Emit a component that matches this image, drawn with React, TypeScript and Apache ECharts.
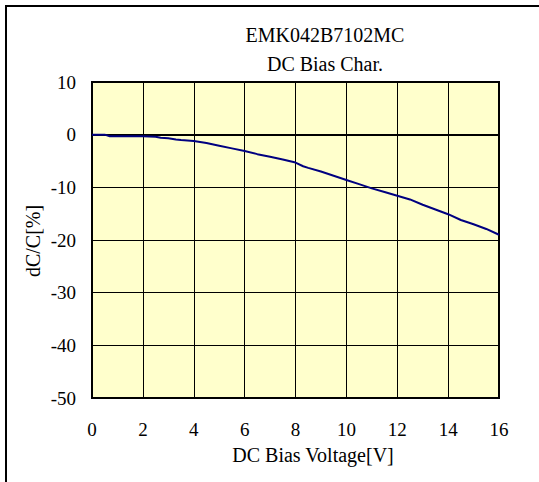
import React, { useEffect, useRef } from "react";
import * as echarts from "echarts";

const titleLines = ["EMK042B7102MC", "DC Bias Char."];
const xAxisName = "DC Bias Voltage[V]";
const yAxisName = "dC/C[%]";

const voltage = [0, 0.5, 0.7, 1, 1.5, 2, 2.5, 2.7, 3, 3.3, 3.5, 4, 4.5, 5, 5.5, 6, 6.5, 7, 7.5, 8, 8.3, 8.5, 9, 9.5, 10, 10.5, 11, 11.5, 12, 12.5, 13, 13.5, 14, 14.5, 15, 15.5, 16];
const dcdc = [0, 0, -0.3, -0.3, -0.3, -0.3, -0.4, -0.6, -0.7, -0.9, -1.0, -1.2, -1.6, -2.1, -2.6, -3.1, -3.7, -4.2, -4.7, -5.3, -6.0, -6.3, -7.0, -7.8, -8.6, -9.4, -10.2, -10.9, -11.6, -12.3, -13.3, -14.2, -15.1, -16.2, -17.0, -17.9, -19.0];

const FONT = "'Liberation Serif', 'Times New Roman', serif";

export default function App() {
  const ref = useRef<HTMLDivElement>(null);
  useEffect(() => {
    document.body.style.margin = "0";
    const chart = echarts.init(ref.current!, null, { renderer: "svg" });
    chart.setOption({
      animation: false,
      backgroundColor: "#ffffff",
      grid: {
        left: 92,
        top: 82,
        width: 407,
        height: 316,
        show: true,
        backgroundColor: "#FFFFCC",
        borderColor: "#000000",
        borderWidth: 2,
      },
      xAxis: {
        type: "value",
        min: 0,
        max: 16,
        interval: 2,
        axisLine: { show: true, lineStyle: { color: "#000", width: 2 } },
        axisTick: { show: false },
        splitLine: { show: true, lineStyle: { color: "#000", width: 1 } },
        axisLabel: { color: "#000", fontFamily: FONT, fontSize: 19, margin: 22 },
      },
      yAxis: {
        type: "value",
        min: -50,
        max: 10,
        interval: 10,
        axisLine: { show: true, lineStyle: { color: "#000", width: 2 } },
        axisTick: { show: false },
        splitLine: { show: true, lineStyle: { color: "#000", width: 1 } },
        axisLabel: { color: "#000", fontFamily: FONT, fontSize: 19, margin: 16 },
      },
      series: [
        {
          type: "line",
          data: voltage.map((v, i) => [v, dcdc[i]]),
          showSymbol: false,
          lineStyle: { color: "#000080", width: 2 },
        },
      ],
      graphic: [
        {
          type: "rect",
          shape: { x: 6, y: 6, width: 700, height: 700 },
          style: { fill: "none", stroke: "#000", lineWidth: 2 },
          silent: true,
        },
        {
          type: "text",
          x: 325,
          y: 35,
          style: { text: titleLines[0], font: `20px ${FONT}`, fill: "#000", textAlign: "center", textVerticalAlign: "middle" },
        },
        {
          type: "text",
          x: 325,
          y: 64,
          style: { text: titleLines[1], font: `20px ${FONT}`, fill: "#000", textAlign: "center", textVerticalAlign: "middle" },
        },
        {
          type: "text",
          x: 313,
          y: 455,
          style: { text: xAxisName, font: `20px ${FONT}`, fill: "#000", textAlign: "center", textVerticalAlign: "middle" },
        },
        {
          type: "text",
          x: 33,
          y: 241,
          rotation: Math.PI / 2,
          style: { text: yAxisName, font: `20px ${FONT}`, fill: "#000", textAlign: "center", textVerticalAlign: "middle" },
        },
      ],
    });
    return () => chart.dispose();
  }, []);
  return <div ref={ref} style={{ width: 539, height: 482 }} />;
}
